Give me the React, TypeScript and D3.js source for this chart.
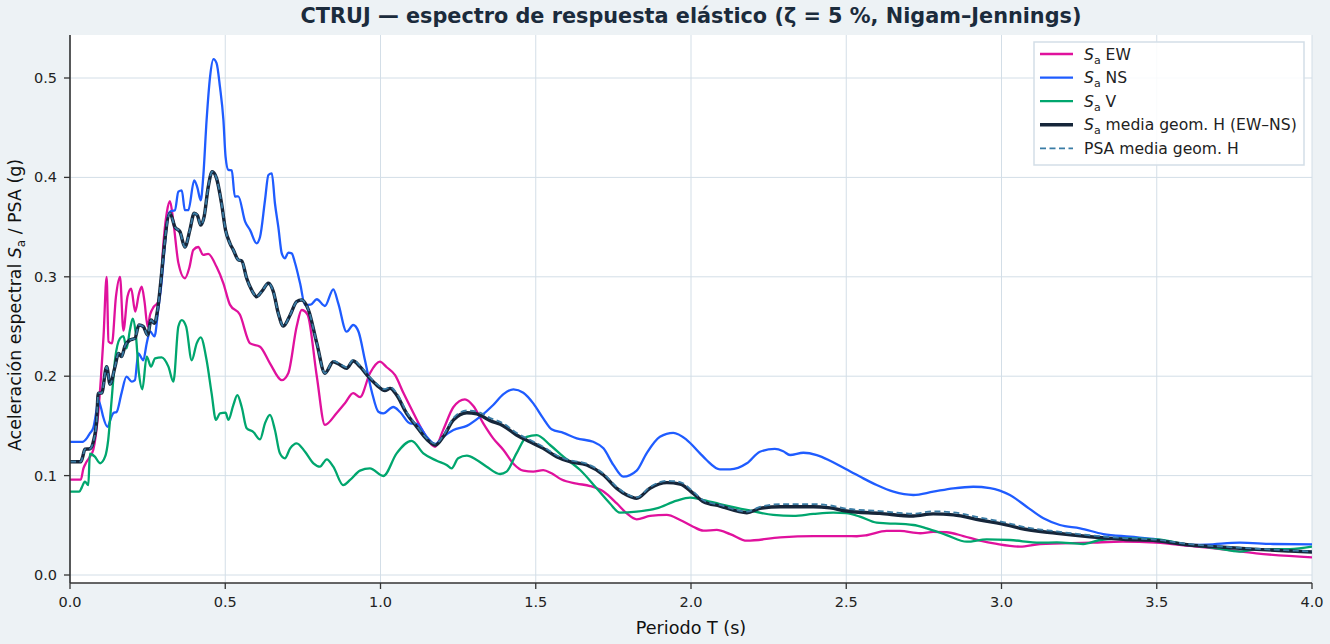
import React from "react";
import * as d3 from "d3";

type Pt = [number, number];

const xTicks = [0, 0.5, 1.0, 1.5, 2.0, 2.5, 3.0, 3.5, 4.0];
const yTicks = [0, 0.1, 0.2, 0.3, 0.4, 0.5];

const saEW: Pt[] = [
  [0,0.096],[0.035,0.096],[0.043,0.107],[0.05,0.112],[0.062,0.118],[0.075,0.126],[0.09,0.16],[0.1,0.2],[0.108,0.24],[0.118,0.300],[0.124,0.235],[0.135,0.233],[0.148,0.28],[0.161,0.300],[0.172,0.246],[0.185,0.28],[0.197,0.288],[0.21,0.265],[0.222,0.283],[0.231,0.29],[0.24,0.275],[0.25,0.25],[0.258,0.262],[0.27,0.27],[0.283,0.274],[0.292,0.29],[0.3,0.33],[0.312,0.365],[0.322,0.376],[0.333,0.355],[0.349,0.314],[0.37,0.2985],[0.385,0.31],[0.397,0.327],[0.413,0.330],[0.429,0.322],[0.445,0.323],[0.472,0.310],[0.494,0.2935],[0.515,0.272],[0.547,0.262],[0.58,0.233],[0.612,0.2297],[0.644,0.213],[0.682,0.196],[0.703,0.203],[0.73,0.250],[0.746,0.2666],[0.765,0.262],[0.795,0.1995],[0.821,0.151],[0.859,0.163],[0.886,0.173],[0.912,0.183],[0.934,0.179],[0.966,0.203],[0.998,0.2146],[1.02,0.209],[1.047,0.201],[1.074,0.183],[1.106,0.163],[1.138,0.144],[1.176,0.129],[1.202,0.146],[1.235,0.169],[1.272,0.1767],[1.299,0.170],[1.331,0.1526],[1.363,0.1375],[1.396,0.1258],[1.428,0.112],[1.46,0.105],[1.492,0.104],[1.524,0.1056],[1.551,0.1023],[1.583,0.096],[1.632,0.092],[1.675,0.0895],[1.718,0.084],[1.761,0.072],[1.793,0.062],[1.825,0.056],[1.868,0.0594],[1.922,0.0604],[1.965,0.0553],[2.007,0.0486],[2.04,0.0446],[2.083,0.0453],[2.126,0.0412],[2.18,0.0345],[2.287,0.0379],[2.394,0.0392],[2.5,0.0392],[2.534,0.039],[2.566,0.040],[2.63,0.0443],[2.673,0.0443],[2.738,0.042],[2.78,0.0433],[2.823,0.043],[2.877,0.0392],[2.931,0.0345],[2.985,0.0312],[3.06,0.0285],[3.124,0.0312],[3.285,0.0325],[3.39,0.0335],[3.497,0.0325],[3.607,0.0292],[3.714,0.0258],[3.82,0.0218],[4.0,0.0178]
];

const saNS: Pt[] = [
  [0,0.134],[0.04,0.134],[0.055,0.138],[0.064,0.1425],[0.075,0.148],[0.085,0.165],[0.091,0.176],[0.1,0.168],[0.107,0.159],[0.121,0.149],[0.132,0.158],[0.14,0.163],[0.15,0.164],[0.166,0.183],[0.182,0.1995],[0.199,0.1945],[0.209,0.196],[0.22,0.223],[0.236,0.216],[0.247,0.233],[0.258,0.245],[0.272,0.24],[0.284,0.2666],[0.295,0.295],[0.305,0.33],[0.315,0.36],[0.322,0.3655],[0.338,0.367],[0.349,0.3856],[0.36,0.387],[0.37,0.367],[0.381,0.367],[0.4,0.397],[0.41,0.39],[0.421,0.377],[0.429,0.40],[0.44,0.458],[0.451,0.501],[0.462,0.519],[0.472,0.515],[0.483,0.491],[0.494,0.458],[0.501,0.421],[0.51,0.4075],[0.521,0.407],[0.531,0.3806],[0.542,0.381],[0.564,0.3555],[0.58,0.347],[0.601,0.3337],[0.612,0.340],[0.628,0.377],[0.639,0.4024],[0.65,0.404],[0.66,0.374],[0.671,0.350],[0.682,0.3236],[0.692,0.3186],[0.703,0.3243],[0.714,0.3236],[0.725,0.3136],[0.741,0.2935],[0.757,0.2716],[0.775,0.272],[0.795,0.2774],[0.821,0.2706],[0.848,0.2874],[0.864,0.2733],[0.891,0.2448],[0.912,0.2515],[0.929,0.245],[0.95,0.216],[0.972,0.1844],[0.993,0.1643],[1.009,0.1626],[1.041,0.169],[1.063,0.164],[1.095,0.1526],[1.117,0.152],[1.149,0.139],[1.176,0.1318],[1.202,0.139],[1.235,0.1459],[1.278,0.15],[1.32,0.159],[1.363,0.171],[1.396,0.182],[1.428,0.1868],[1.46,0.1834],[1.492,0.1727],[1.524,0.1576],[1.551,0.1466],[1.589,0.143],[1.632,0.1375],[1.685,0.134],[1.718,0.1274],[1.75,0.1107],[1.782,0.0989],[1.825,0.105],[1.857,0.1224],[1.90,0.139],[1.943,0.143],[1.986,0.136],[2.029,0.1224],[2.05,0.1157],[2.093,0.1063],[2.126,0.1063],[2.18,0.1124],[2.222,0.124],[2.27,0.1268],[2.297,0.1245],[2.319,0.1207],[2.362,0.123],[2.405,0.1207],[2.448,0.115],[2.5,0.1063],[2.544,0.099],[2.598,0.0905],[2.652,0.0838],[2.716,0.0805],[2.78,0.0838],[2.845,0.0872],[2.909,0.0888],[2.963,0.0875],[3.027,0.0805],[3.081,0.0687],[3.135,0.057],[3.188,0.0503],[3.253,0.047],[3.328,0.0412],[3.414,0.0385],[3.5,0.0359],[3.607,0.0302],[3.661,0.0305],[3.768,0.0325],[3.875,0.0312],[4.0,0.0309]
];

const saV: Pt[] = [
  [0,0.0838],[0.03,0.0838],[0.038,0.0882],[0.048,0.094],[0.059,0.0905],[0.064,0.122],[0.08,0.119],[0.097,0.1124],[0.113,0.119],[0.123,0.1358],[0.134,0.176],[0.145,0.2163],[0.161,0.238],[0.172,0.2404],[0.182,0.228],[0.193,0.2465],[0.202,0.258],[0.211,0.245],[0.222,0.203],[0.233,0.1868],[0.247,0.2197],[0.261,0.2096],[0.274,0.218],[0.295,0.219],[0.317,0.2096],[0.333,0.1945],[0.349,0.25],[0.36,0.2565],[0.374,0.25],[0.392,0.216],[0.408,0.233],[0.421,0.239],[0.44,0.216],[0.456,0.183],[0.47,0.156],[0.483,0.1626],[0.501,0.1633],[0.51,0.156],[0.526,0.171],[0.539,0.181],[0.553,0.169],[0.569,0.1476],[0.59,0.144],[0.612,0.1365],[0.628,0.1526],[0.644,0.161],[0.66,0.1459],[0.676,0.1224],[0.692,0.1174],[0.709,0.1274],[0.73,0.1325],[0.757,0.124],[0.784,0.1124],[0.805,0.109],[0.827,0.1164],[0.848,0.109],[0.88,0.0905],[0.902,0.0956],[0.934,0.105],[0.966,0.1073],[1.009,0.0996],[1.052,0.1224],[1.1,0.135],[1.138,0.1224],[1.181,0.115],[1.213,0.1107],[1.229,0.1073],[1.25,0.1174],[1.278,0.12],[1.31,0.1157],[1.342,0.109],[1.385,0.1016],[1.406,0.104],[1.438,0.1224],[1.471,0.139],[1.503,0.1408],[1.546,0.1308],[1.589,0.119],[1.643,0.1056],[1.696,0.0872],[1.739,0.072],[1.771,0.0627],[1.825,0.0637],[1.889,0.067],[1.954,0.0748],[1.997,0.0778],[2.029,0.0762],[2.093,0.0714],[2.18,0.0654],[2.265,0.0604],[2.33,0.0594],[2.394,0.0614],[2.458,0.0627],[2.5,0.0622],[2.544,0.0587],[2.598,0.0526],[2.63,0.052],[2.716,0.0503],[2.759,0.047],[2.823,0.0402],[2.888,0.0335],[2.952,0.0359],[3.027,0.0352],[3.124,0.0325],[3.178,0.0328],[3.263,0.0312],[3.317,0.0352],[3.392,0.0369],[3.5,0.0359],[3.607,0.0302],[3.693,0.0268],[3.768,0.0235],[3.822,0.0258],[3.929,0.026],[4.0,0.0285]
];

const saGeoH: Pt[] = [
  [0,0.114],[0.035,0.114],[0.041,0.119],[0.048,0.1265],[0.064,0.127],[0.075,0.134],[0.086,0.156],[0.091,0.183],[0.102,0.183],[0.118,0.2096],[0.129,0.192],[0.145,0.2096],[0.156,0.223],[0.166,0.2197],[0.177,0.2304],[0.193,0.2364],[0.209,0.238],[0.222,0.2515],[0.236,0.25],[0.25,0.2414],[0.261,0.2565],[0.272,0.2532],[0.282,0.2666],[0.295,0.3035],[0.3,0.32],[0.322,0.364],[0.338,0.35],[0.354,0.3454],[0.37,0.330],[0.386,0.347],[0.4,0.364],[0.41,0.362],[0.421,0.352],[0.432,0.3605],[0.445,0.39],[0.458,0.4057],[0.472,0.399],[0.488,0.374],[0.501,0.347],[0.515,0.3337],[0.526,0.327],[0.542,0.317],[0.553,0.316],[0.569,0.2985],[0.585,0.2867],[0.601,0.28],[0.617,0.285],[0.639,0.2935],[0.655,0.285],[0.671,0.263],[0.687,0.2505],[0.709,0.2616],[0.73,0.275],[0.746,0.2767],[0.768,0.2666],[0.795,0.233],[0.821,0.203],[0.848,0.2146],[0.87,0.2113],[0.891,0.208],[0.912,0.2153],[0.934,0.2096],[0.961,0.1995],[0.988,0.191],[1.014,0.1855],[1.031,0.1878],[1.052,0.181],[1.084,0.1626],[1.117,0.149],[1.149,0.1365],[1.178,0.1308],[1.202,0.139],[1.235,0.156],[1.278,0.1633],[1.31,0.162],[1.353,0.1553],[1.396,0.15],[1.438,0.1408],[1.481,0.134],[1.524,0.1274],[1.567,0.119],[1.61,0.114],[1.664,0.1107],[1.718,0.1006],[1.761,0.0872],[1.793,0.0805],[1.825,0.0772],[1.868,0.0872],[1.922,0.0929],[1.965,0.0915],[2.007,0.0822],[2.04,0.0737],[2.093,0.0694],[2.18,0.0627],[2.222,0.067],[2.287,0.0687],[2.394,0.0687],[2.448,0.0675],[2.5,0.0644],[2.608,0.062],[2.716,0.0594],[2.78,0.0615],[2.845,0.0605],[2.931,0.0553],[3.027,0.0496],[3.06,0.047],[3.178,0.042],[3.285,0.0385],[3.392,0.0359],[3.5,0.0345],[3.607,0.0302],[3.714,0.0279],[3.822,0.0258],[3.929,0.0241],[4.0,0.0231]
];

const psaGeoH: Pt[] = [
  [0,0.114],[0.035,0.114],[0.041,0.119],[0.048,0.1265],[0.064,0.127],[0.075,0.134],[0.086,0.156],[0.091,0.183],[0.102,0.183],[0.118,0.2096],[0.129,0.192],[0.145,0.2096],[0.156,0.223],[0.166,0.2197],[0.177,0.2304],[0.193,0.2364],[0.209,0.238],[0.222,0.2515],[0.236,0.25],[0.25,0.2414],[0.261,0.2565],[0.272,0.2532],[0.282,0.2666],[0.295,0.3035],[0.3,0.32],[0.322,0.364],[0.338,0.35],[0.354,0.3454],[0.37,0.330],[0.386,0.347],[0.4,0.364],[0.41,0.362],[0.421,0.352],[0.432,0.3605],[0.445,0.39],[0.458,0.4057],[0.472,0.399],[0.488,0.374],[0.501,0.347],[0.515,0.3337],[0.526,0.327],[0.542,0.317],[0.553,0.316],[0.569,0.2985],[0.585,0.2867],[0.601,0.28],[0.617,0.285],[0.639,0.2935],[0.655,0.285],[0.671,0.263],[0.687,0.2505],[0.709,0.2616],[0.73,0.275],[0.746,0.2767],[0.768,0.2666],[0.795,0.233],[0.821,0.203],[0.848,0.2155],[0.87,0.2122],[0.891,0.209],[0.912,0.2163],[0.934,0.2106],[0.961,0.2005],[0.988,0.1922],[1.014,0.187],[1.031,0.189],[1.052,0.183],[1.084,0.164],[1.117,0.150],[1.149,0.1375],[1.178,0.132],[1.202,0.140],[1.235,0.158],[1.278,0.1655],[1.31,0.1645],[1.353,0.158],[1.396,0.1525],[1.438,0.143],[1.481,0.136],[1.524,0.129],[1.567,0.1205],[1.61,0.1155],[1.664,0.112],[1.718,0.102],[1.761,0.0885],[1.793,0.0815],[1.825,0.078],[1.868,0.0885],[1.922,0.0948],[1.965,0.0935],[2.007,0.084],[2.04,0.0752],[2.093,0.0705],[2.18,0.0637],[2.222,0.0685],[2.287,0.0713],[2.394,0.0713],[2.448,0.070],[2.5,0.0668],[2.608,0.0643],[2.716,0.0617],[2.78,0.064],[2.845,0.063],[2.931,0.0578],[3.027,0.0518],[3.06,0.0492],[3.178,0.0438],[3.285,0.040],[3.392,0.0372],[3.5,0.0355],[3.607,0.031],[3.714,0.0285],[3.822,0.0264],[3.929,0.0247],[4.0,0.0237]
];

const W = 1330;
const H = 644;
const PL = 70, PR = 1312, PT = 35, PB = 583;
const FONT = "DejaVu Sans, sans-serif";

const series = [
  { key: "ew", data: saEW, color: "#e0119d", width: 2.3, dash: null as string | null, sub: true, label: " EW" },
  { key: "ns", data: saNS, color: "#1f5cff", width: 2.3, dash: null, sub: true, label: " NS" },
  { key: "v", data: saV, color: "#00a66e", width: 2.3, dash: null, sub: true, label: " V" },
  { key: "gh", data: saGeoH, color: "#16263a", width: 3.4, dash: null, sub: true, label: " media geom. H (EW–NS)" },
  { key: "psa", data: psaGeoH, color: "#3a7ca5", width: 1.8, dash: "6,3.5", sub: false, label: "PSA media geom. H" },
];

export default function App() {
  const x = d3.scaleLinear().domain([0, 4]).range([PL, PR]);
  const y = d3.scaleLinear().domain([0, 0.5]).range([575, 78]);
  const line = d3
    .line<Pt>()
    .x((d) => x(d[0]))
    .y((d) => y(d[1]))
    .curve(d3.curveMonotoneX);

  const fmt = d3.format(".1f");
  const legX = 1034, legY = 42, legW = 270, legH = 123;
  const rowY = (i: number) => 54 + i * 23.6;

  return (
    <svg
      width={W}
      height={H}
      style={{ position: "fixed", left: 0, top: 0, display: "block" }}
      fontFamily={FONT}
    >
      <rect x={0} y={0} width={W} height={H} fill="#edf2f5" />
      <rect x={PL} y={PT} width={PR - PL} height={PB - PT} fill="#ffffff" />
      <defs>
        <clipPath id="plotclip">
          <rect x={PL} y={PT} width={PR - PL} height={PB - PT} />
        </clipPath>
      </defs>
      {xTicks.map((t) => (
        <line key={"gx" + t} x1={x(t)} x2={x(t)} y1={PT} y2={PB} stroke="#d3dee7" strokeWidth={1} />
      ))}
      {yTicks.map((t) => (
        <line key={"gy" + t} x1={PL} x2={PR} y1={y(t)} y2={y(t)} stroke="#d3dee7" strokeWidth={1} />
      ))}
      <g clipPath="url(#plotclip)">
        {series.map((s) => (
          <path
            key={s.key}
            d={line(s.data) || ""}
            fill="none"
            stroke={s.color}
            strokeWidth={s.width}
            strokeDasharray={s.dash || undefined}
            strokeLinejoin="round"
          />
        ))}
      </g>
      <line x1={PL} x2={PL} y1={PT} y2={PB} stroke="#333" strokeWidth={1.6} />
      <line x1={PL} x2={PR} y1={PB} y2={PB} stroke="#333" strokeWidth={1.6} />
      {xTicks.map((t) => (
        <g key={"tx" + t}>
          <line x1={x(t)} x2={x(t)} y1={PB} y2={PB + 6} stroke="#333" strokeWidth={1.3} />
          <text x={x(t)} y={PB + 24} fontSize={14.5} fill="#222" textAnchor="middle">
            {fmt(t)}
          </text>
        </g>
      ))}
      {yTicks.map((t) => (
        <g key={"ty" + t}>
          <line x1={PL - 6} x2={PL} y1={y(t)} y2={y(t)} stroke="#333" strokeWidth={1.3} />
          <text x={PL - 13} y={y(t) + 5} fontSize={14.5} fill="#222" textAnchor="end">
            {fmt(t)}
          </text>
        </g>
      ))}
      <text x={(PL + PR) / 2} y={23} fontSize={20.8} fontWeight="bold" fill="#1b2b3c" textAnchor="middle">
        CTRUJ — espectro de respuesta elástico (ζ = 5 %, Nigam–Jennings)
      </text>
      <text x={(PL + PR) / 2} y={634} fontSize={17.6} fill="#111" textAnchor="middle">
        Periodo T (s)
      </text>
      <text transform={`translate(21,305) rotate(-90)`} fontSize={17.4} fill="#111" textAnchor="middle">
        Aceleración espectral <tspan fontStyle="italic">S</tspan>
        <tspan fontSize={12} dy={4}>a</tspan>
        <tspan dy={-4}> / PSA (g)</tspan>
      </text>
      <rect x={legX} y={legY} width={legW} height={legH} fill="#ffffff" fillOpacity={0.85} stroke="#d3dee7" strokeWidth={1.5} />
      {series.map((s, i) => (
        <g key={"lg" + s.key}>
          <line
            x1={1040}
            x2={1073}
            y1={rowY(i)}
            y2={rowY(i)}
            stroke={s.color}
            strokeWidth={s.width}
            strokeDasharray={s.dash || undefined}
          />
          <text x={1084} y={rowY(i) + 5.5} fontSize={15.6} fill="#222">
            {s.sub ? (
              <>
                <tspan fontStyle="italic">S</tspan>
                <tspan fontSize={11} dy={4}>a</tspan>
                <tspan dy={-4}>{s.label}</tspan>
              </>
            ) : (
              s.label
            )}
          </text>
        </g>
      ))}
    </svg>
  );
}
